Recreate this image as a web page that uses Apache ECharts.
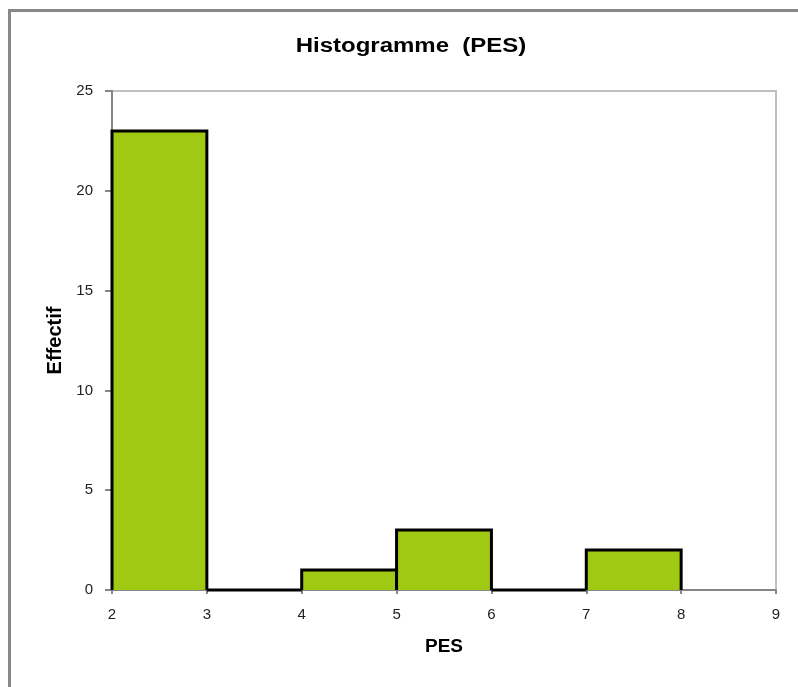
<!DOCTYPE html>
<html>
<head>
<meta charset="utf-8">
<script src="https://cdn.jsdelivr.net/npm/echarts@6/dist/echarts.min.js"></script>
<style>
html,body{margin:0;padding:0;background:#fff;}
#chart{width:798px;height:687px;}
</style>
</head>
<body>
<div id="chart"></div>
<script>
var binStart = [2, 3, 4, 5, 6, 7];
var binEnd = [3, 4, 5, 6, 7, 8];
var counts = [23, 0, 1, 3, 0, 2];
var xTicks = [2, 3, 4, 5, 6, 7, 8, 9];
var yTicks = [0, 5, 10, 15, 20, 25];
var titleText = 'Histogramme  (PES)';

var data = binStart.map(function (s, i) { return [s, binEnd[i], counts[i]]; });

var chart = echarts.init(document.getElementById('chart'));
var font = '"Liberation Sans", Arial, sans-serif';
chart.setOption({
  animation: false,
  backgroundColor: '#fff',
  graphic: [{
    type: 'rect', shape: { x: 9.5, y: 10.5, width: 820, height: 700 },
    style: { fill: 'none', stroke: '#888', lineWidth: 3 }, silent: true
  }, {
    type: 'text', x: 411, y: 46, scaleX: 1.2,
    style: {
      text: titleText, x: 0, y: 0, align: 'center', verticalAlign: 'middle',
      font: 'bold 20px "Liberation Sans", Arial, sans-serif', fill: '#000'
    }
  }],
  grid: {
    left: 112, right: 22, top: 91, bottom: 97,
    show: true, borderColor: '#c0c0c0', borderWidth: 2, backgroundColor: 'transparent'
  },
  xAxis: {
    type: 'value', min: xTicks[0], max: xTicks[xTicks.length - 1], interval: 1,
    name: 'PES', nameLocation: 'middle', nameGap: 47,
    nameTextStyle: { fontFamily: font, fontSize: 19, fontWeight: 'bold', color: '#000' },
    axisLine: { show: true, lineStyle: { color: '#868686', width: 2 } },
    axisTick: { show: true, inside: false, length: 4, lineStyle: { color: '#868686', width: 2 } },
    axisLabel: { fontFamily: font, fontSize: 15, color: '#222', margin: 17 },
    splitLine: { show: false }
  },
  yAxis: {
    type: 'value', min: yTicks[0], max: yTicks[yTicks.length - 1], interval: 5,
    name: 'Effectif', nameLocation: 'middle', nameGap: 45, nameRotate: 90,
    nameTextStyle: { fontFamily: font, fontSize: 20, fontWeight: 'bold', color: '#000' },
    axisLine: { show: true, lineStyle: { color: '#868686', width: 2 } },
    axisTick: { show: true, inside: false, length: 7, lineStyle: { color: '#868686', width: 2 } },
    axisLabel: { fontFamily: font, fontSize: 15, color: '#222', margin: 19 },
    splitLine: { show: false }
  },
  series: [{
    type: 'custom',
    data: data,
    encode: { x: [0, 1], y: 2 },
    renderItem: function (params, api) {
      var s = api.value(0), e = api.value(1), c = api.value(2);
      var p0 = api.coord([s, 0]);
      var p1 = api.coord([e, c]);
      var children = [];
      if (c > 0) {
        children.push({
          type: 'rect',
          shape: { x: p0[0], y: p1[1], width: p1[0] - p0[0], height: p0[1] - p1[1] },
          style: { fill: '#9fc913', stroke: null }
        });
      }
      children.push({
        type: 'polyline',
        shape: { points: [[p0[0], p0[1]], [p0[0], p1[1]], [p1[0], p1[1]], [p1[0], p0[1]]] },
        style: { fill: null, stroke: '#000', lineWidth: 3, lineJoin: 'miter' }
      });
      return { type: 'group', children: children };
    }
  }]
});
</script>
</body>
</html>
